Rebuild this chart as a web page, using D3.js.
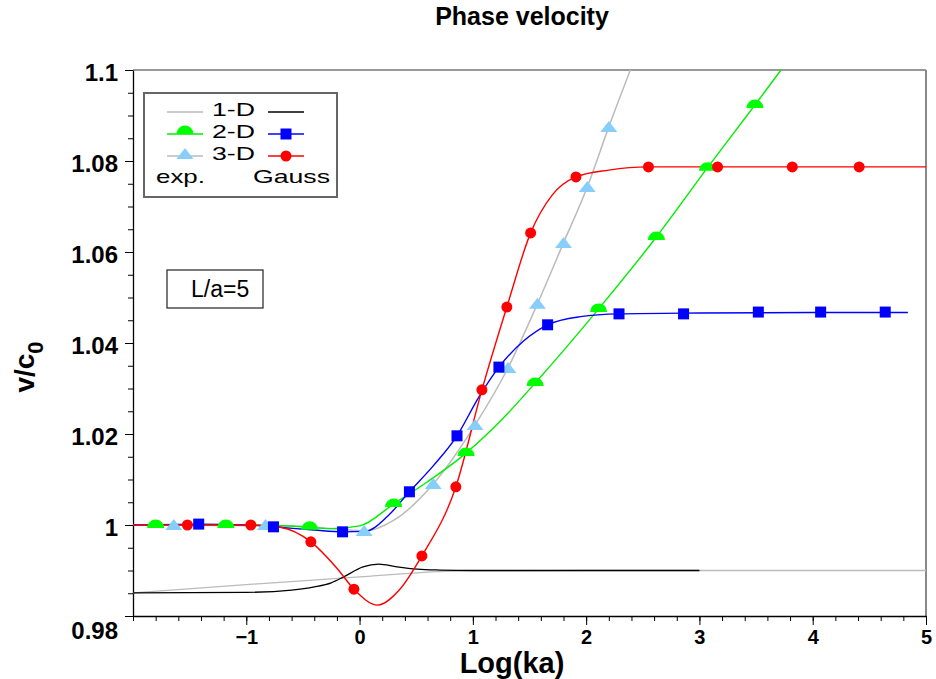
<!DOCTYPE html>
<html>
<head>
<meta charset="utf-8">
<script src="https://cdn.jsdelivr.net/npm/d3@7"></script>
<style>
  body { margin: 0; background: #fff; }
  text { font-family: "Liberation Sans", Arial, sans-serif; }
</style>
</head>
<body>
<div id="chart"></div>
<script>
// axis ticks
var xTicks = [-1, 0, 1, 2, 3, 4, 5];
var yTicks = [0.98, 1, 1.02, 1.04, 1.06, 1.08, 1.1];
var yTickLabels = ["0.98", "1", "1.02", "1.04", "1.06", "1.08", "1.1"];

// 1-D (lines only)
var oneDExpX = [-2, -1, 0, 0.5, 1, 2, 5];
var oneDExpY = [0.9851, 0.9869, 0.9886, 0.9895, 0.9899, 0.99, 0.99];
var oneDGaussX = [-2, -1, -0.6, -0.4, -0.25, -0.14, 0.03, 0.17, 0.33, 0.51, 0.71, 1, 3];
var oneDGaussY = [0.9851, 0.9852, 0.9857, 0.9864, 0.9873, 0.9886, 0.9908, 0.9914, 0.9908, 0.9903, 0.9901, 0.99, 0.99];

// 2-D exp (green, half disks)
var twoDExpLineX = [-2, -1, -0.5, -0.25, 0, 0.3, 0.6, 0.94, 1.25, 1.55, 2.11, 2.62, 3.07, 3.49, 3.72];
var twoDExpLineY = [1.0, 1.0, 0.9996, 0.9992, 0.9998, 1.0046, 1.0095, 1.0158, 1.023, 1.0312, 1.0475, 1.0633, 1.0785, 1.0923, 1.1];
var twoDExpPtX = [-1.80, -1.18, -0.44, 0.30, 0.94, 1.55, 2.11, 2.62, 3.07, 3.49];
var twoDExpPtY = [1.0, 1.0, 0.9996, 1.0046, 1.0158, 1.0312, 1.0475, 1.0633, 1.0785, 1.0923];

// 2-D Gauss (blue, squares)
var twoDGaussLineX = [-2, -1.42, -1, -0.76, -0.4, -0.15, 0.05, 0.25, 0.44, 0.65, 0.86, 1.05, 1.23, 1.45, 1.66, 1.95, 2.29, 3, 4, 4.84];
var twoDGaussLineY = [1.0, 1.0002, 1.0, 0.9996, 0.9989, 0.9985, 0.9986, 1.002, 1.0073, 1.013, 1.0196, 1.028, 1.0347, 1.0405, 1.044, 1.0458, 1.0464, 1.0466, 1.0467, 1.0467];
var twoDGaussPtX = [-1.42, -0.76, -0.15, 0.44, 0.86, 1.23, 1.66, 2.29, 2.86, 3.52, 4.07, 4.64];
var twoDGaussPtY = [1.0002, 0.9996, 0.9985, 1.0073, 1.0196, 1.0347, 1.044, 1.0464, 1.0464, 1.0468, 1.0468, 1.0468];

// 3-D exp (gray line, light blue triangles)
var threeDExpLineX = [-2, -0.6, -0.2, 0.05, 0.3, 0.65, 1.02, 1.31, 1.57, 1.8, 2.01, 2.2, 2.39];
var threeDExpLineY = [1.0, 0.9998, 0.9991, 0.9987, 1.001, 1.009, 1.022, 1.0345, 1.0486, 1.062, 1.0743, 1.0875, 1.1];
var threeDExpPtX = [-1.64, -0.83, 0.04, 0.65, 1.02, 1.31, 1.57, 1.80, 2.01, 2.20];
var threeDExpPtY = [1.0, 1.0, 0.9987, 1.009, 1.022, 1.0345, 1.0486, 1.062, 1.0743, 1.0875];

// 3-D Gauss (red, circles)
var threeDGaussLineX = [-2, -0.96, -0.7, -0.43, -0.2, -0.05, 0.16, 0.35, 0.55, 0.85, 1.08, 1.3, 1.51, 1.7, 1.91, 2.2, 2.55, 5];
var threeDGaussLineY = [1.0, 1.0, 0.9995, 0.9963, 0.9905, 0.9859, 0.9824, 0.9857, 0.9932, 1.0084, 1.0297, 1.0479, 1.0642, 1.0725, 1.0765, 1.078, 1.0787, 1.0787];
var threeDGaussPtX = [-1.52, -0.96, -0.43, -0.05, 0.55, 0.85, 1.08, 1.30, 1.51, 1.91, 2.55, 3.16, 3.82, 4.41];
var threeDGaussPtY = [1.0, 1.0, 0.9963, 0.9859, 0.9932, 1.0084, 1.0297, 1.0479, 1.0642, 1.0765, 1.0787, 1.0787, 1.0787, 1.0787];

var zip = function(xs, ys) { return xs.map(function(v, i) { return [v, ys[i]]; }); };

var svg = d3.select("#chart").append("svg").attr("width", 936).attr("height", 679);

var x = d3.scaleLinear().domain([-2, 5]).range([133, 926]);
var y = d3.scaleLinear().domain([0.98, 1.1]).range([616, 70]);

// frame top/right
svg.append("line").attr("x1", 133).attr("x2", 926).attr("y1", 70).attr("y2", 70).attr("stroke", "#333").attr("stroke-width", 1.2);
svg.append("line").attr("x1", 926).attr("x2", 926).attr("y1", 70).attr("y2", 616).attr("stroke", "#888").attr("stroke-width", 2);

// minor ticks
svg.append("g").attr("transform", "translate(0,616)")
  .call(d3.axisBottom(x).tickValues(d3.range(-20, 51, 2).map(function(d) { return d / 10; })).tickSize(5).tickFormat(""))
  .call(function(g) { g.select(".domain").remove(); });
svg.append("g").attr("transform", "translate(133,0)")
  .call(d3.axisLeft(y).tickValues(d3.range(196, 221, 1).map(function(d) { return d / 200; })).tickSize(5).tickFormat(""))
  .call(function(g) { g.select(".domain").remove(); });

// major axes
var xAxis = svg.append("g").attr("transform", "translate(0,616)")
  .call(d3.axisBottom(x).tickValues(xTicks).tickFormat(d3.format("d")).tickSize(9).tickPadding(5).tickSizeOuter(0));
xAxis.selectAll("text").attr("font-size", 20).attr("font-weight", "bold").attr("fill", "#000");

var yAxis = svg.append("g").attr("transform", "translate(133,0)")
  .call(d3.axisLeft(y).tickValues(yTicks).tickFormat(function(d, i) { return yTickLabels[i]; }).tickSize(8).tickPadding(7).tickSizeOuter(0));
yAxis.selectAll("text").attr("font-size", 24).attr("font-weight", "bold").attr("fill", "#000").attr("dy", "0.42em");
yAxis.selectAll(".tick").filter(function(d) { return d === 0.98; }).select("text").attr("dy", "0.95em");
svg.selectAll(".domain").attr("stroke", "#000").attr("stroke-width", 1.3);

// lines
var line = d3.line().x(function(d) { return x(d[0]); }).y(function(d) { return y(d[1]); }).curve(d3.curveMonotoneX);
var plot = svg.append("g");
plot.append("path").datum(zip(oneDExpX, oneDExpY)).attr("d", line).attr("fill", "none").attr("stroke", "#bbb").attr("stroke-width", 1.3);
plot.append("path").datum(zip(oneDGaussX, oneDGaussY)).attr("d", line).attr("fill", "none").attr("stroke", "#000").attr("stroke-width", 1.3);
plot.append("path").datum(zip(threeDExpLineX, threeDExpLineY)).attr("d", line).attr("fill", "none").attr("stroke", "#bbb").attr("stroke-width", 1.5);
plot.append("path").datum(zip(twoDExpLineX, twoDExpLineY)).attr("d", line).attr("fill", "none").attr("stroke", "#00ee00").attr("stroke-width", 1.4);
plot.append("path").datum(zip(twoDGaussLineX, twoDGaussLineY)).attr("d", line).attr("fill", "none").attr("stroke", "#0000ff").attr("stroke-width", 1.4);
plot.append("path").datum(zip(threeDGaussLineX, threeDGaussLineY)).attr("d", line).attr("fill", "none").attr("stroke", "#ff0000").attr("stroke-width", 1.4);

// markers
var halfDisk = "M-8.5,3A8.5,8.5 0 0 1 8.5,3Z";
var tri = "M0,-6L8.5,5L-8.5,5Z";
plot.selectAll(".hd").data(zip(twoDExpPtX, twoDExpPtY)).enter().append("path")
  .attr("d", halfDisk).attr("fill", "#00ff00").attr("transform", function(d) { return "translate(" + x(d[0]) + "," + y(d[1]) + ")"; });
plot.selectAll(".tr").data(zip(threeDExpPtX, threeDExpPtY)).enter().append("path")
  .attr("d", tri).attr("fill", "#87cefa").attr("transform", function(d) { return "translate(" + x(d[0]) + "," + y(d[1]) + ")"; });
plot.selectAll(".sq").data(zip(twoDGaussPtX, twoDGaussPtY)).enter().append("rect")
  .attr("x", function(d) { return x(d[0]) - 5.5; }).attr("y", function(d) { return y(d[1]) - 5.5; })
  .attr("width", 11).attr("height", 11).attr("fill", "#0000ff");
plot.selectAll(".ci").data(zip(threeDGaussPtX, threeDGaussPtY)).enter().append("circle")
  .attr("cx", function(d) { return x(d[0]); }).attr("cy", function(d) { return y(d[1]); }).attr("r", 5.5).attr("fill", "#ff0000");

// legend
var leg = svg.append("g");
leg.append("rect").attr("x", 144).attr("y", 93).attr("width", 193).attr("height", 104).attr("fill", "#fff").attr("stroke", "#666").attr("stroke-width", 2);
var rows = [112, 134, 156];
var leftColors = ["#bbb", "#00ee00", "#bbb"];
var rightColors = ["#000", "#0000ff", "#ff0000"];
rows.forEach(function(ry, i) {
  leg.append("line").attr("x1", 167).attr("x2", 203).attr("y1", ry).attr("y2", ry).attr("stroke", leftColors[i]).attr("stroke-width", 1.4);
  leg.append("line").attr("x1", 268).attr("x2", 304).attr("y1", ry).attr("y2", ry).attr("stroke", rightColors[i]).attr("stroke-width", 1.4);
  leg.append("text").attr("x", 212).attr("y", ry + 3.5).attr("font-size", 19)
    .attr("textLength", 43).attr("lengthAdjust", "spacingAndGlyphs").text((i + 1) + "-D");
});
leg.append("path").attr("d", halfDisk).attr("fill", "#00ff00").attr("transform", "translate(185,131)");
leg.append("path").attr("d", tri).attr("fill", "#87cefa").attr("transform", "translate(185,154)");
leg.append("rect").attr("x", 280.5).attr("y", 128.5).attr("width", 11).attr("height", 11).attr("fill", "#0000ff");
leg.append("circle").attr("cx", 286).attr("cy", 156).attr("r", 5.5).attr("fill", "#ff0000");
leg.append("text").attr("x", 156).attr("y", 183).attr("font-size", 19)
  .attr("textLength", 49).attr("lengthAdjust", "spacingAndGlyphs").text("exp.");
leg.append("text").attr("x", 253).attr("y", 183).attr("font-size", 19)
  .attr("textLength", 77).attr("lengthAdjust", "spacingAndGlyphs").text("Gauss");

// L/a box
svg.append("rect").attr("x", 167).attr("y", 270).attr("width", 96).attr("height", 38).attr("fill", "#fff").attr("stroke", "#222").attr("stroke-width", 1.2);
svg.append("text").attr("x", 191).attr("y", 297).attr("font-size", 23).text("L/a=5");

// titles
svg.append("text").attr("x", 522).attr("y", 25).attr("text-anchor", "middle").attr("font-size", 25).attr("font-weight", "bold").text("Phase velocity");
svg.append("text").attr("x", 512).attr("y", 673).attr("text-anchor", "middle").attr("font-size", 29).attr("font-weight", "bold").text("Log(ka)");
var yl = svg.append("text").attr("transform", "translate(34,367) rotate(-90)").attr("text-anchor", "middle").attr("font-size", 28).attr("font-weight", "bold");
yl.append("tspan").text("v/c");
yl.append("tspan").attr("font-size", 22).attr("dy", 9).text("0");
</script>
</body>
</html>
